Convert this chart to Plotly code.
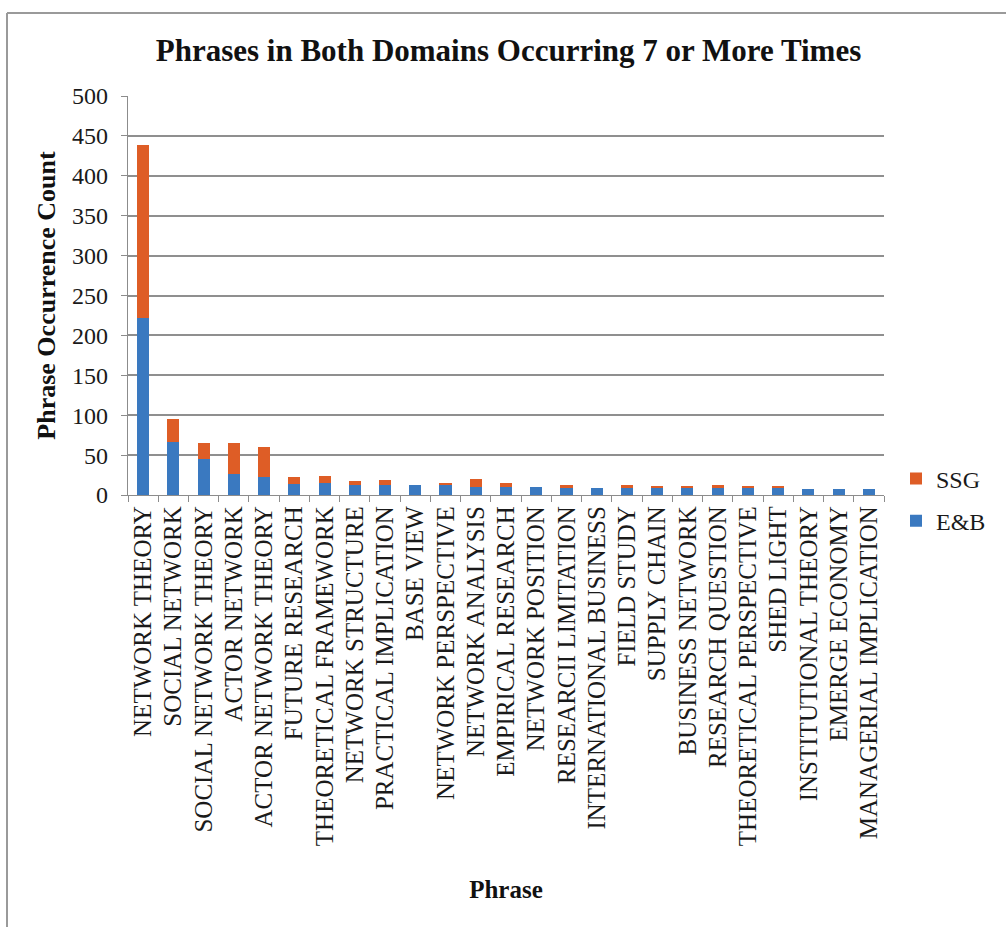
import plotly.graph_objects as go

phrases = ["NETWORK THEORY", "SOCIAL NETWORK", "SOCIAL NETWORK THEORY", "ACTOR NETWORK",
           "ACTOR NETWORK THEORY", "FUTURE RESEARCH", "THEORETICAL FRAMEWORK", "NETWORK STRUCTURE",
           "PRACTICAL IMPLICATION", "BASE VIEW", "NETWORK PERSPECTIVE", "NETWORK ANALYSIS",
           "EMPIRICAL RESEARCH", "NETWORK POSITION", "RESEARCII LIMITATION", "INTERNATIONAL BUSINESS",
           "FIELD STUDY", "SUPPLY CHAIN", "BUSINESS NETWORK", "RESEARCH QUESTION",
           "THEORETICAL PERSPECTIVE", "SHED LIGHT", "INSTITUTIONAL THEORY", "EMERGE ECONOMY",
           "MANAGERIAL IMPLICATION"]
eb_counts = [222, 67, 45, 26, 23, 14, 15, 13, 13, 12, 12, 10, 10, 10, 10, 9, 10, 10, 10, 10, 10, 10, 8, 8, 8]
ssg_counts = [217, 28, 20, 39, 37, 8, 9, 5, 6, 0, 3, 10, 5, 0, 2, 0, 2, 1, 1, 2, 1, 1, 0, 0, 0]
y_ticks = [0, 50, 100, 150, 200, 250, 300, 350, 400, 450, 500]

FONT = "Liberation Serif"
W, H = 1006, 927
L, R, T, B = 128, 884, 96, 495

fig = go.Figure()
fig.add_trace(go.Bar(x=phrases, y=eb_counts, name="E&B", legendgroup="eb", legendrank=2,
                     marker=dict(color="#3a79c0", line=dict(width=0))))
fig.add_trace(go.Bar(x=phrases, y=ssg_counts, name="SSG", legendgroup="ssg", legendrank=1,
                     marker=dict(color="#de5d26", line=dict(width=0))))

def px_x(p):
    return (p - L) / (R - L)

def px_y(p):
    return (B - p) / (B - T)

fig.update_layout(
    width=W, height=H,
    margin=dict(l=L, r=W - R, t=T, b=H - B, autoexpand=False),
    barmode="stack", bargap=0.6,
    paper_bgcolor="white", plot_bgcolor="white",
    font=dict(family=FONT, color="#1a1a1a", size=22),
    title=dict(text="<b>Phrases in Both Domains Occurring 7 or More Times</b>",
               x=(155 + 862) / 2 / W, xanchor="center", y=1 - 50 / H, yanchor="middle",
               font=dict(family=FONT, size=31, color="#111")),
    legend=dict(font=dict(family=FONT, size=24, color="#1a1a1a"), itemwidth=30,
                bgcolor="rgba(0,0,0,0)", xanchor="left", yanchor="middle",
                x=px_x(896), y=px_y(500), traceorder="grouped", tracegroupgap=8),
    xaxis=dict(type="category", tickmode="array", tickvals=phrases, ticktext=phrases,
               tickangle=-90, tickfont=dict(family=FONT, size=25, color="#1a1a1a"),
               ticks="outside", tickson="boundaries", ticklen=6, tickcolor="#8c8c8c",
               showline=True, linecolor="#8c8c8c", linewidth=1.3, showgrid=False,
               automargin=False,
               title=dict(text="<b>Phrase</b>", font=dict(family=FONT, size=25, color="#111"), standoff=35)),
    yaxis=dict(range=[0, 500], tickvals=y_ticks, ticks="outside", ticklen=6, tickcolor="#8c8c8c",
               tickfont=dict(family=FONT, size=24, color="#1a1a1a"), ticklabelstandoff=8,
               showline=True, linecolor="#8c8c8c", linewidth=1.3,
               showgrid=True, gridcolor="#8f8f8f", gridwidth=1.5, zeroline=False,
               automargin=False,
               title=dict(text="<b>Phrase Occurrence Count</b>", font=dict(family=FONT, size=26, color="#111"), standoff=8)),
    shapes=[
        dict(type="line", xref="paper", yref="paper", x0=px_x(7), x1=px_x(W + 5), y0=px_y(13), y1=px_y(13),
             line=dict(color="#9a9a9a", width=2)),
        dict(type="line", xref="paper", yref="paper", x0=px_x(7), x1=px_x(7), y0=px_y(13), y1=px_y(H + 5),
             line=dict(color="#9a9a9a", width=2)),
    ],
)

fig.write_html("out.html", config={"displayModeBar": False},
               post_script="document.body.style.margin='0';document.body.style.overflow='hidden';")
